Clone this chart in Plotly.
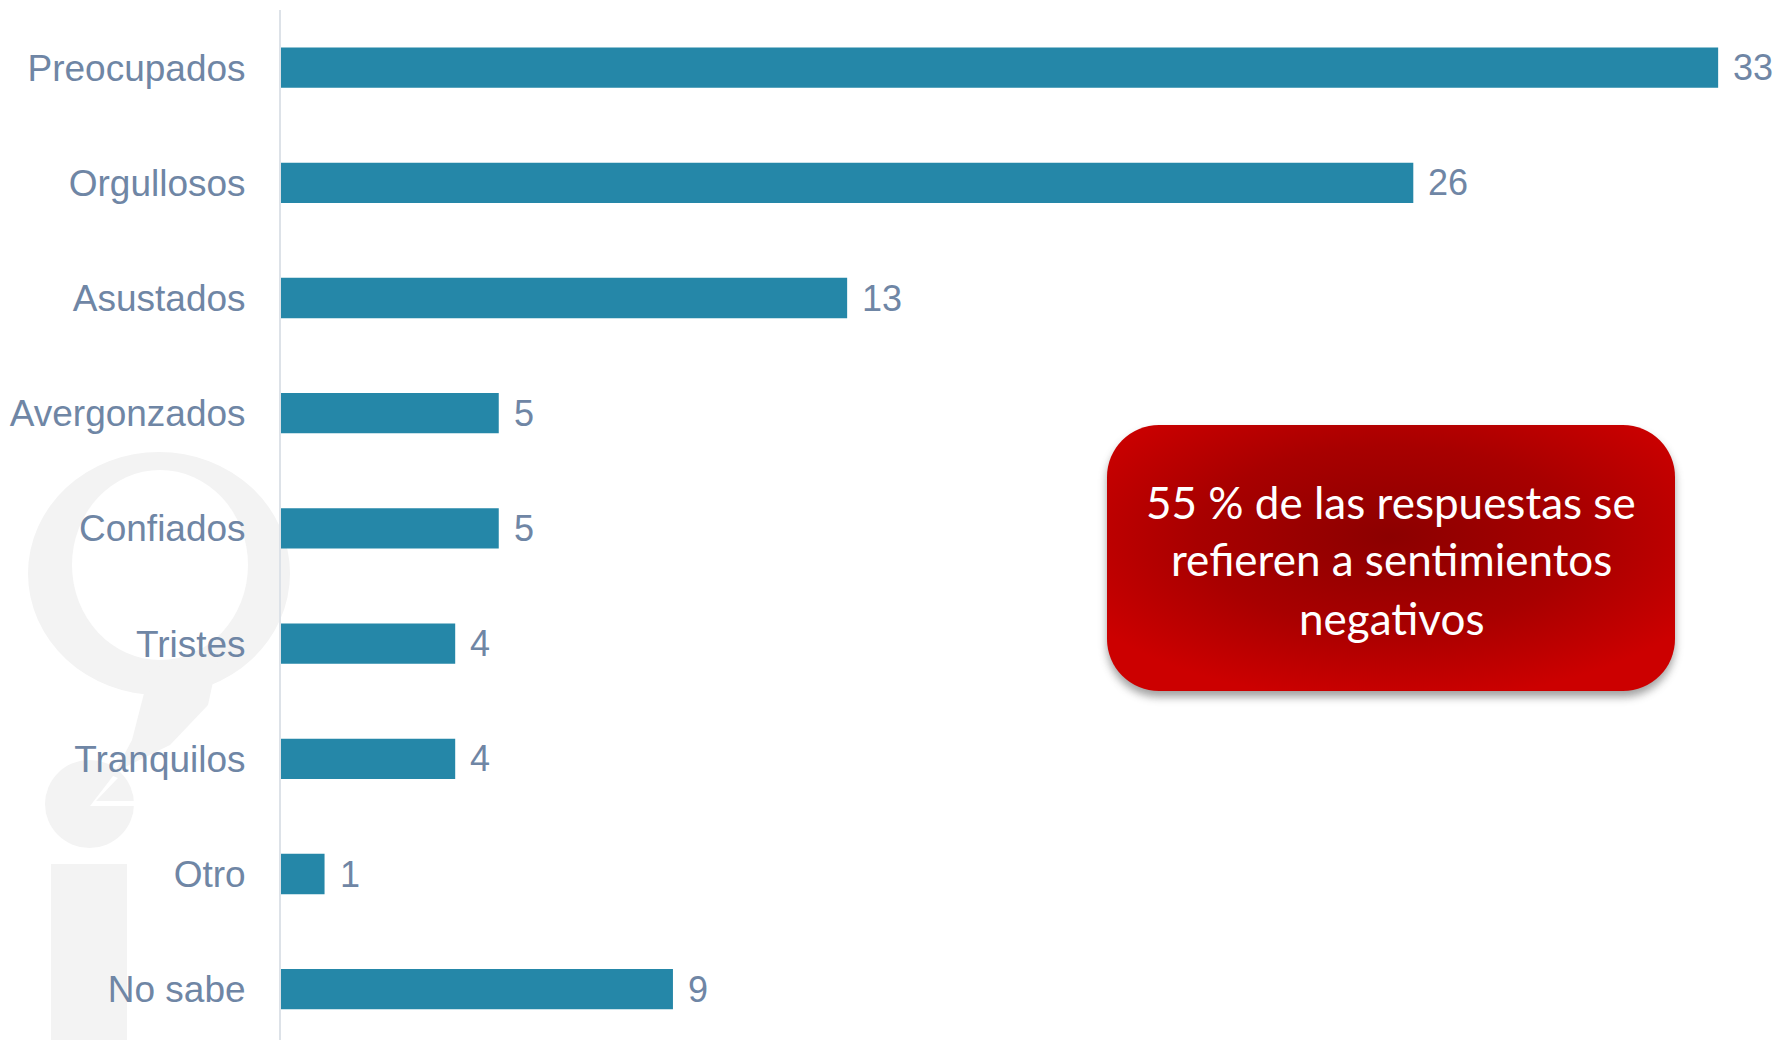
import base64
import plotly.graph_objects as go

# ------- Data ------- #
categorias = ["Preocupados", "Orgullosos", "Asustados", "Avergonzados", "Confiados",
              "Tristes", "Tranquilos", "Otro", "No sabe"]
valores = [33, 26, 13, 5, 5, 4, 4, 1, 9]
nota_lineas = ["55 % de las respuestas se", "refieren a sentimientos", "negativos"]

# ------- Page geometry (pixels, body margin removed in post_script) ------- #
W, H = 1777, 1040
ML, MR, MT, MB = 281, 0, 10, 0
PW, PH = W - ML - MR, H - MT - MB
ROW = 115.2  # pixel pitch between bars

BAR_COLOR = "#2587a8"
TEXT_COLOR = "#6f86a5"
FONT = "Liberation Sans, Arial, sans-serif"


def px(x):
    # page x (pixels) -> paper coordinate
    return (x - ML) / PW


def py(y):
    # page y (pixels) -> paper coordinate
    return (H - MB - y) / PH


fig = go.Figure()

fig.add_trace(go.Bar(
    x=valores,
    y=categorias,
    orientation="h",
    marker=dict(color=BAR_COLOR, line=dict(width=0)),
    width=0.35,
    hoverinfo="x+y",
))

# value labels next to the bars
for cat, val in zip(categorias, valores):
    fig.add_annotation(x=val, y=cat, text=str(val), showarrow=False,
                       xanchor="left", xshift=13,
                       font=dict(family=FONT, size=36, color=TEXT_COLOR))

# ------- light grey watermark logo on the left ------- #
WM = "#f3f3f3"
shapes = []
shapes.append(dict(type="circle", xref="paper", yref="paper", layer="below",
                   x0=px(28), x1=px(290), y0=py(695), y1=py(452),
                   fillcolor=WM, line=dict(width=0)))
shapes.append(dict(type="circle", xref="paper", yref="paper", layer="below",
                   x0=px(72), x1=px(248), y0=py(660), y1=py(470),
                   fillcolor="white", line=dict(width=0)))
tail = [(150, 670), (222, 640), (208, 705), (170, 745), (115, 772), (132, 740)]
path = "M " + " L ".join(f"{px(a)},{py(b)}" for a, b in tail) + " Z"
shapes.append(dict(type="path", xref="paper", yref="paper", layer="below",
                   path=path, fillcolor=WM, line=dict(width=0)))
shapes.append(dict(type="circle", xref="paper", yref="paper", layer="below",
                   x0=px(45), x1=px(134), y0=py(848), y1=py(760),
                   fillcolor=WM, line=dict(width=0)))
wedge = [(90, 806), (136, 806), (136, 801), (96, 801), (118, 778), (113, 776)]
path = "M " + " L ".join(f"{px(a)},{py(b)}" for a, b in wedge) + " Z"
shapes.append(dict(type="path", xref="paper", yref="paper", layer="below",
                   path=path, fillcolor="white", line=dict(width=0)))
shapes.append(dict(type="rect", xref="paper", yref="paper", layer="below",
                   x0=px(51), x1=px(127), y0=py(1040), y1=py(864),
                   fillcolor=WM, line=dict(width=0)))

# ------- red rounded note box (svg image with radial gradient + shadow) ------- #
bx0, by0, bx1, by1 = 1107, 425, 1675, 691
pad = 14
svg_w, svg_h = bx1 - bx0 + 2 * pad, by1 - by0 + 2 * pad + 8
svg = f"""<svg xmlns='http://www.w3.org/2000/svg' width='{svg_w}' height='{svg_h}'>
<defs>
<radialGradient id='g' cx='0.5' cy='0.42' r='0.62'>
<stop offset='0' stop-color='#8c0000'/>
<stop offset='0.55' stop-color='#a80000'/>
<stop offset='1' stop-color='#cc0000'/>
</radialGradient>
<filter id='s' x='-10%' y='-10%' width='120%' height='130%'>
<feGaussianBlur stdDeviation='4'/>
</filter>
</defs>
<rect x='{pad}' y='{pad + 6}' width='{bx1 - bx0}' height='{by1 - by0}' rx='52' ry='52'
 fill='#555' opacity='0.55' filter='url(#s)'/>
<rect x='{pad}' y='{pad}' width='{bx1 - bx0}' height='{by1 - by0}' rx='52' ry='52' fill='url(#g)'/>
</svg>"""
src = "data:image/svg+xml;base64," + base64.b64encode(svg.encode()).decode()

fig.add_layout_image(dict(
    source=src, xref="paper", yref="paper",
    x=px(bx0 - pad), y=py(by0 - pad),
    sizex=svg_w / PW, sizey=svg_h / PH,
    xanchor="left", yanchor="top", sizing="stretch", layer="above",
))

line_y = [502, 559, 618]
for txt, ly in zip(nota_lineas, line_y):
    fig.add_annotation(xref="paper", yref="paper", x=px((bx0 + bx1) / 2), y=py(ly),
                       text=txt, showarrow=False, xanchor="center", yanchor="middle",
                       font=dict(family="Lato, Open Sans, sans-serif", size=44, color="white"))

fig.update_layout(
    width=W, height=H,
    margin=dict(l=ML, r=MR, t=MT, b=MB, pad=0),
    paper_bgcolor="white", plot_bgcolor="rgba(0,0,0,0)",
    showlegend=False,
    shapes=shapes,
    xaxis=dict(range=[0, PW / 43.55], visible=False, fixedrange=True),
    yaxis=dict(
        categoryorder="array", categoryarray=categorias,
        range=[-0.5 + PH / ROW, -0.5],
        showline=True, linecolor="#dde2e8", linewidth=2,
        showgrid=False, zeroline=False, ticks="",
        ticklabelstandoff=26,
        tickfont=dict(family=FONT, size=37, color=TEXT_COLOR),
    ),
)

# drop the browser's default body margin so the figure fills the window exactly
fig.write_html("out.html",
               config={"displayModeBar": False},
               post_script="document.body.style.margin='0';document.body.style.overflow='hidden';")
